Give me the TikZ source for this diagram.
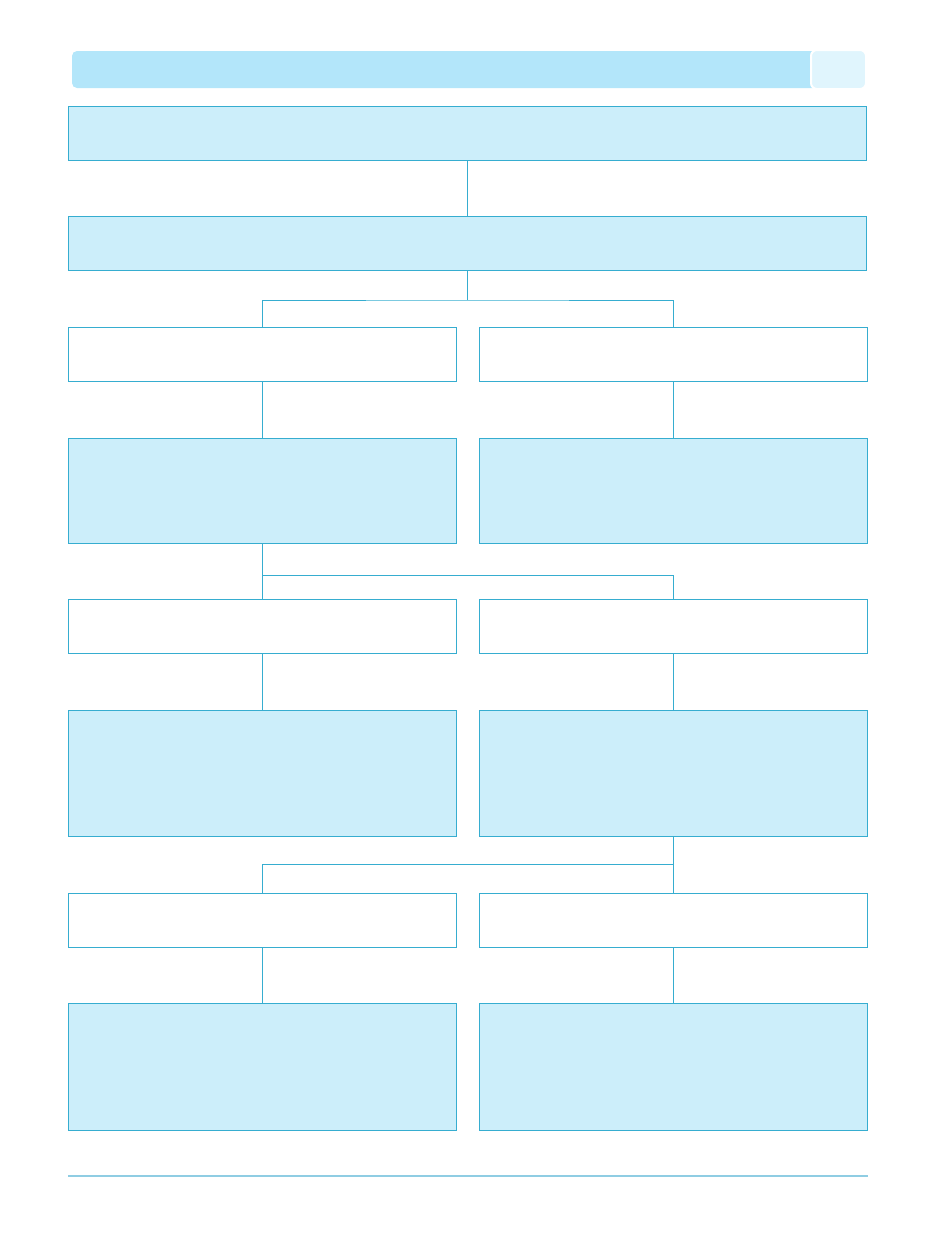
\documentclass[tikz,border=0pt]{standalone}
\definecolor{boxfill}{HTML}{CCEEFA}
\definecolor{boxline}{HTML}{36ADD0}
\definecolor{barfill}{HTML}{B3E6FA}
\definecolor{tabfill}{HTML}{E0F5FD}
\definecolor{rulecol}{HTML}{8FCDE3}
\tikzset{
  flowbox/.style={draw=boxline, line width=1pt, inner sep=0pt, minimum width=#1},
  fullbox/.style={flowbox=798pt, fill=boxfill, minimum height=54pt},
  plainbox/.style={flowbox=388pt, fill=white, minimum height=54pt},
  infobox/.style={flowbox=388pt, fill=boxfill},
  link/.style={draw=boxline, line width=1pt}
}
\begin{document}
\begin{tikzpicture}[x=1pt,y=-1pt]
    \useasboundingbox (0,0) rectangle (935,1254);

    % Title bar with tab
    \fill[barfill, rounded corners=5pt] (72,51) rectangle (818,88);
    \filldraw[tabfill, draw=white, line width=2pt, rounded corners=6pt] (811,50) rectangle (866,89);

    % Top two wide steps
    \node[fullbox] (top) at (467,133) {};
    \node[fullbox] (mid) at (467,243.5) {};

    % Left / right columns
    \node[plainbox] (p1) at (262,354.5) {}; \node[plainbox] (q1) at (673,354.5) {};
    \node[infobox, minimum height=105pt] (p2) at (262,490.5) {}; \node[infobox, minimum height=105pt] (q2) at (673,490.5) {};
    \node[plainbox] (p3) at (262,626.5) {}; \node[plainbox] (q3) at (673,626.5) {};
    \node[infobox, minimum height=126pt] (p4) at (262,773) {}; \node[infobox, minimum height=126pt] (q4) at (673,773) {};
    \node[plainbox] (p5) at (262,920) {}; \node[plainbox] (q5) at (673,920) {};
    \node[infobox, minimum height=127pt] (p6) at (262,1066.5) {}; \node[infobox, minimum height=127pt] (q6) at (673,1066.5) {};

    \draw[link] (top.south) -- (mid.north);

    % Branches
    \draw[link] (mid.south) -- ++(0,29) coordinate (j1);
    \draw[link] (p1.north) |- (j1) -| (q1.north);
    \draw[link] (p2.south) -- (p3.north);
    \draw[link] (p2.south) ++(0,32) coordinate (j2) -| (q3.north);
    \draw[link] (q4.south) -- (q5.north);
    \draw[link] (q4.south) ++(0,28) coordinate (j3) -| (p5.north);

    \foreach \r/\s in {1/2,3/4,5/6} {
        \draw[link] (p\r.south) -- (p\s.north);
        \draw[link] (q\r.south) -- (q\s.north);
    }

    % Footer rule
    \draw[rulecol, line width=2pt] (68,1176) -- (868,1176);
\end{tikzpicture}
\end{document}
